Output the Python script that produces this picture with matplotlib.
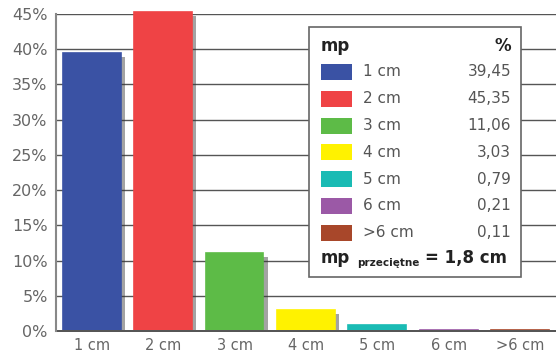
import matplotlib
matplotlib.use("Agg")
import matplotlib.pyplot as plt
import matplotlib.patheffects as pe
from matplotlib.patches import Rectangle
from matplotlib.transforms import Bbox, TransformedBbox

# data
categories = ["1 cm", "2 cm", "3 cm", "4 cm", "5 cm", "6 cm", ">6 cm"]
values = [39.45, 45.35, 11.06, 3.03, 0.79, 0.21, 0.11]
value_labels = ["39,45", "45,35", "11,06", "3,03", "0,79", "0,21", "0,11"]
colors = ["#3A52A4", "#EF4345", "#5DBB47", "#FFF200", "#1ABBB4", "#9B59A6", "#A8472A"]
yticks = [0, 5, 10, 15, 20, 25, 30, 35, 40, 45]
mean_label = "1,8 cm"

plt.rcParams['font.family'] = ['DejaVu Sans']

fig = plt.figure(figsize=(5.56, 3.59), dpi=100)
ax = fig.add_axes([0.1007, 0.078, 0.8993, 0.883])

x = list(range(len(categories)))
shadow = [pe.SimplePatchShadow(offset=(3, -3), alpha=0.45, shadow_rgbFace="#333333"), pe.Normal()]
bars = ax.bar(x, values, width=0.81, color=colors, edgecolor=colors, lw=1.2, zorder=3)
# let bars poke above the top gridline but clip the shadow at the baseline
clip = TransformedBbox(Bbox([[0, 0.002], [1.2, 1.2]]), ax.transAxes)
for b in bars:
    b.set_path_effects(shadow)
    b.set_clip_box(clip)

ax.set_xlim(-0.5, len(categories) - 0.5)
ax.set_ylim(0, 45)
ax.set_yticks(yticks)
ax.set_yticklabels([f"{t}%" for t in yticks])
ax.set_xticks(x)
ax.set_xticklabels(categories)
ax.tick_params(length=0, colors="#666666", labelsize=11.5, pad=6)
ax.tick_params(axis="x", labelsize=10.5, pad=5)

for t in yticks[1:]:
    ax.axhline(t, color="#555555", lw=1, zorder=1)
for s in ["top", "right"]:
    ax.spines[s].set_visible(False)
ax.spines["left"].set_color("#888888")
ax.spines["left"].set_linewidth(1.5)
ax.spines["bottom"].set_color("#444444")
ax.spines["bottom"].set_linewidth(1.3)
ax.spines["bottom"].set_zorder(2)

# legend table (figure pixel coords -> fraction)
W, H = 556, 359
def fx(px):
    return px / W
def fy(py):
    return 1 - py / H

box = Rectangle((fx(309), fy(277)), fx(521) - fx(309), fy(27) - fy(277),
                transform=fig.transFigure, facecolor="white", edgecolor="#666666",
                lw=1.2, zorder=5)
fig.add_artist(box)

fig.text(fx(321), fy(46), "mp", fontsize=12, fontweight="bold", color="#222222",
         va="center", ha="left", zorder=6)
fig.text(fx(511), fy(46), "%", fontsize=12, fontweight="bold", color="#222222",
         va="center", ha="right", zorder=6)

row0 = 72
step = 26.8
for i, (cat, val, col) in enumerate(zip(categories, value_labels, colors)):
    yc = row0 + i * step
    sw = Rectangle((fx(321), fy(yc + 8)), fx(352) - fx(321), fy(yc - 8) - fy(yc + 8),
                   transform=fig.transFigure, facecolor=col, edgecolor="none", zorder=6)
    fig.add_artist(sw)
    fig.text(fx(363), fy(yc), cat, fontsize=11, color="#555555", va="center", ha="left", zorder=6)
    fig.text(fx(511), fy(yc), val, fontsize=11, color="#555555", va="center", ha="right", zorder=6)

yb = 258
fig.text(fx(321), fy(yb), "mp", fontsize=12, fontweight="bold", color="#222222",
         va="center", ha="left", zorder=6)
fig.text(fx(357), fy(yb + 5), "przeciętne", fontsize=7.5, fontweight="bold", color="#222222",
         va="center", ha="left", zorder=6)
fig.text(fx(507), fy(yb), "= " + mean_label, fontsize=12, fontweight="bold", color="#222222",
         va="center", ha="right", zorder=6)

fig.savefig("out.png", dpi=100)
